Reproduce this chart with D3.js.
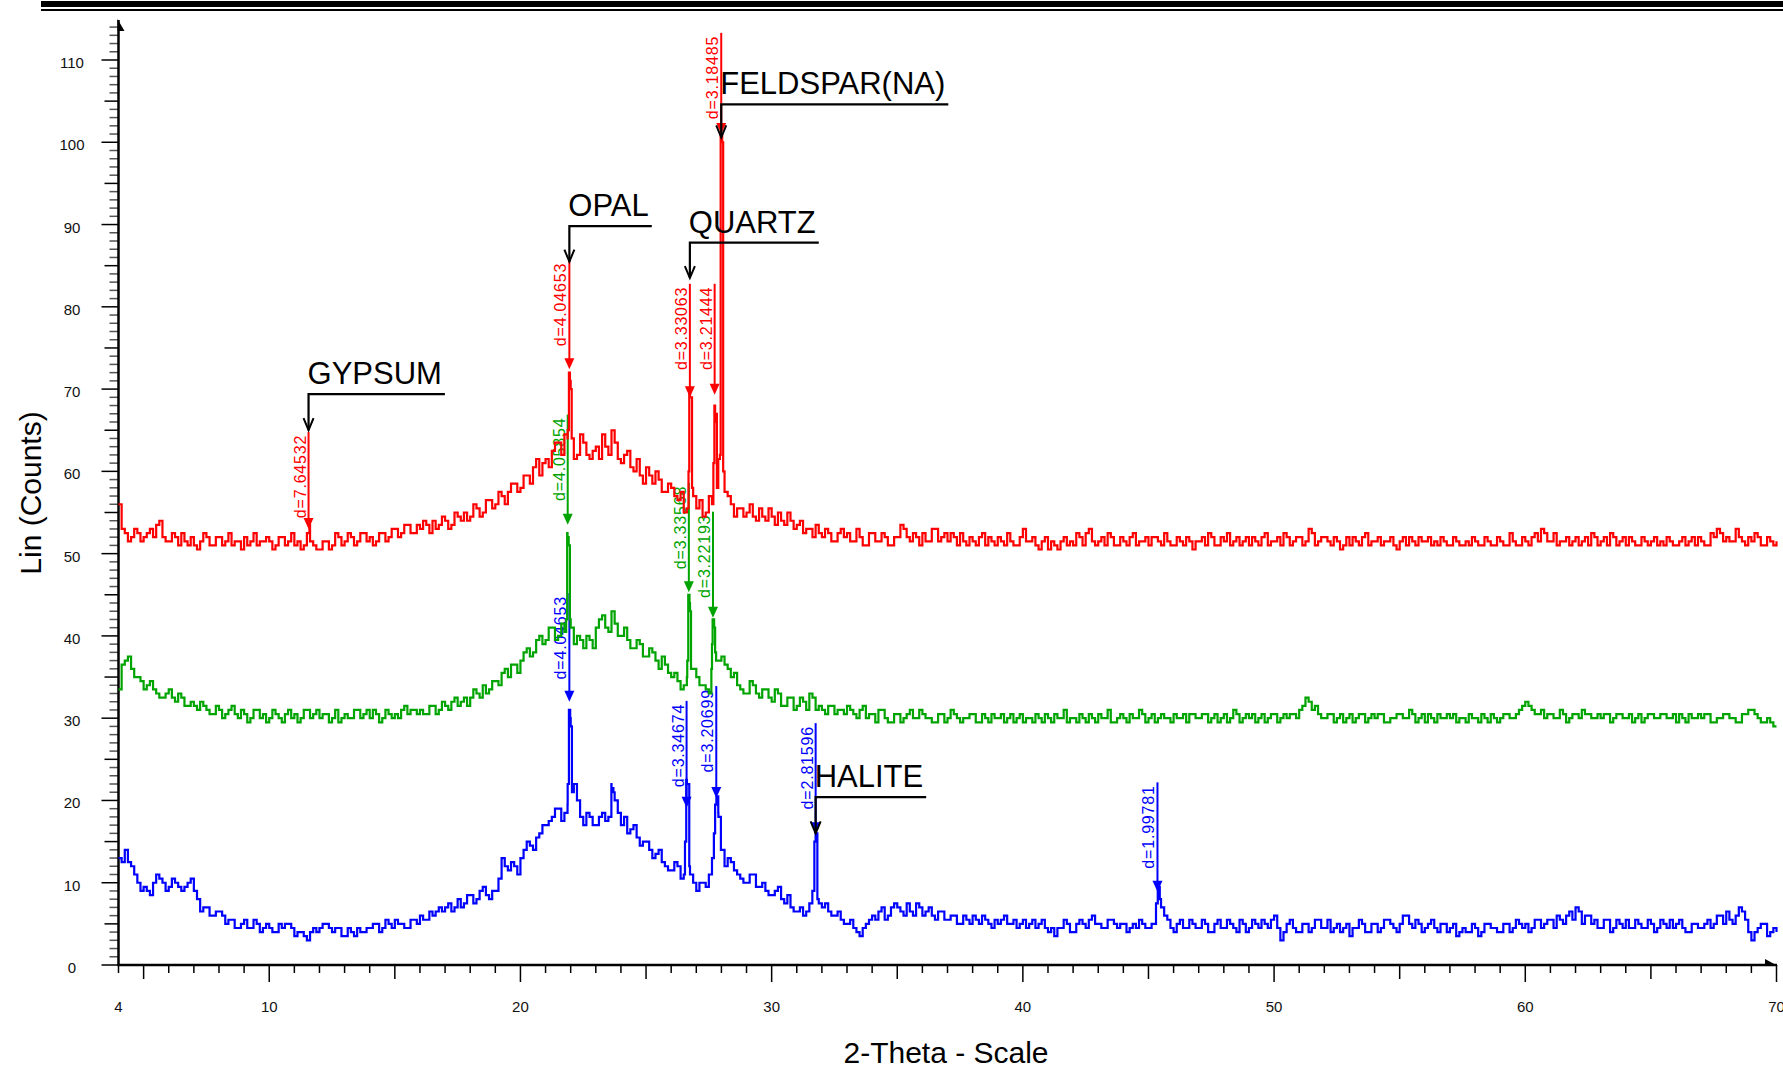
<!DOCTYPE html>
<meta charset="utf-8">
<style>
	body { margin:0; background:#fff; }
	svg { display:block; font-family:"Liberation Sans", Arial, Helvetica, sans-serif; }
</style>
<script src="https://d3js.org/d3.v7.min.js"></script>
<body>
<svg id="chart" width="1783" height="1069"></svg>
<script>
// scans start at 4 deg 2-theta, one reading every 0.25 deg, plus the readings halfway between
var thetaStart = 4, thetaStep = 0.25;

var redCounts = [
	56,52.5,52,52.5, 52,53,53.5,52, 51.5,52,52.5,51, 51,51.5,52,51, 52,51.5,51,51.5,
	52,51.5,51,51.5, 51.5,51,52,51.5, 51,50.5,52.5,51, 50.5,51.5,51,52, 51.5,52,51.5,52.5,
	52,51.5,52.5,52, 53,52.5,53.5,52.5, 53,53.5,54,53.5, 54,53.5,54.5,55, 54.5,55.5,55,56.5,
	56,57,57.5,58.5, 58,59.5,60.5,59.5, 61.5,62.5,63.5,64.5, 70,62,63.5,61.5, 63,64.5,62,63.5,
	61,62.5,60,59.5, 60.5,58.5,59,57.5, 58,56.5,55,69, 55.5,54.5,57,66, 101,57,54.5,55.5,
	55,54.5,55.5,54, 54.5,55,53.5,54, 53.5,52.5,53,53.5, 52,52.5,51.5,53, 52.5,51.5,52,51,
	52.5,51.5,52,51, 52,53,51.5,52, 52.5,51.5,53,52, 51.5,52,52.5,51, 51.5,52,51,51.5,
	52,51,51.5,51, 53,51.5,51,51.5, 50.5,51,51.5,51, 51,52,52.5,51.5, 51.5,51,52,51,
	51.5,52,51,51.5, 51,52,51,51.5, 51,51.5,52,50.5, 51.5,51,52,51, 51.5,51,52,51.5,
	51,51.5,52,51, 51.5,51,52,51.5, 52,51.5,52.5,51.5, 52,51,51.5,51, 51,51.5,52,51,
	51.5,51,51.5,51, 51.5,51,51.5,52, 51.5,51,51,51.5, 51,51.5,51,51, 51.5,51,51.5,51,
	51.5,51,51.5,51, 51.5,52,51.5,52.5, 51.5,51,51.5,51, 52,51.5,51,52, 51.5,51,52,51.5,
	51,51.5,51,51.5, 51.5,51,51,51.5, 51,52,51.5,51, 51.5,51,52,52.5, 52,51.5,52,51,
	51.5,52,51,51.5, 51.5
];
var redMid = [
	53,51.5,53,51.5, 52.5,52,54,51.5, 52.5,51,51.5,52, 50.5,52.5,51,52, 51,52.5,51.5,50.5,
	51,52.5,51.5,52, 50.5,52,51,52.5, 51.5,51,51.5,50.5, 51.5,50.5,52.5,51, 52.5,51,52.5,51.5,
	51,52.5,51.5,53, 52,53.5,52.5,53.5, 54,52.5,53,54.5, 53,55,54,54, 56,54.5,56.5,55.5,
	57.5,56,58.5,57.5, 59.5,58.5,61.5,61, 60.5,63.5,62,64, 61.5,64.5,62,62.5, 61.5,63,65,61.5,
	62,60.5,61.5,58.5, 59.5,60,57.5,58.5, 57,57.5,55.5,57, 56.5,55,56,61.5, 57.5,56,55.5,54.5,
	56,54,54.5,55.5, 53.5,54,55,53, 54,53,52,52.5, 53,51.5,52.5,52, 51.5,53,51,52.5,
	51.5,52.5,51,52, 53.5,52,52.5,51, 51.5,53,51.5,52.5, 52.5,51,51.5,52, 51,52.5,52,51,
	51.5,52.5,51,52, 51.5,52,50.5,52, 51.5,50.5,52,51.5, 52.5,51,53,51, 52,52.5,51,52,
	51,52.5,51.5,52, 52,51.5,52.5,51, 52,51,51.5,51.5, 52,52.5,51,52, 52.5,51.5,51,52,
	52,51,52.5,51.5, 52,52.5,51,52, 51,53,51,52, 51.5,52,50.5,52, 52,51,52.5,51.5,
	52,51.5,52,50.5, 52,52,51,51.5, 52,51.5,52,51, 52,51,51.5,52, 51,52,51,52,
	51,52.5,51,52, 51,52.5,53,51.5, 52.5,51.5,52,51.5, 51,52,52.5,51, 52,52.5,51,52,
	52,51,52,51, 52,51.5,52,51, 51.5,51,52,52, 51,52.5,53,51.5, 51.5,53,51.5,52,
	52.5,51,52,51
];
var greenCounts = [
	33.5,37,36,35, 33.5,34.5,33,32.5, 33.5,32,32.5,31.5, 31.5,32,31,30.5, 31,30.5,31.5,30,
	30.5,30,31,30.5, 30,30.5,29.5,31, 30.5,30,31,30.5, 30,30.5,30,29.5, 30.5,30,31,30.5,
	30,30.5,30,30.5, 30.5,31,30.5,31, 31,30.5,31.5,31, 31.5,32,31.5,32.5, 32.5,33,34,33.5,
	34.5,35.5,35,36.5, 37,38.5,38,40, 39.5,41,40,40.5, 41,40,38.5,39.5, 41,42.5,40.5,41.5,
	40,39.5,38.5,39, 37.5,38,36,36.5, 35,34.5,34,43, 35,34,33,38, 37.5,36,35.5,33.5,
	33,34,32.5,33.5, 32,33,31.5,32.5, 31.5,32,33,31, 31,31.5,30.5,31, 31.5,30.5,31,30,
	30.5,31,30,29.5, 30.5,30,31,30, 30.5,30,29.5,30.5, 30,30.5,29.5,30, 30.5,29.5,30,30.5,
	30,29.5,30.5,30, 29.5,30,30.5,29.5, 30,30.5,30,29.5, 30,30.5,29.5,30, 30.5,30,29.5,30,
	30,30.5,30,30.5, 30,29.5,30.5,30, 30.5,30,29.5,30.5, 30,30.5,30,29.5, 30.5,30,30.5,30,
	30,29.5,30.5,30, 30.5,30,30,30.5, 31,32.5,31,30.5, 30,30.5,30,29.5, 30.5,30,30.5,30,
	30,30.5,29.5,30, 30.5,30,30.5,30, 29.5,30,30.5,30, 30,29.5,30,30.5, 30,30.5,29.5,30,
	30,30.5,30,31, 32,31,30.5,30, 30.5,30,30.5,30, 30.5,31,30.5,30, 30,30.5,30,30.5,
	30,29.5,30.5,30, 30.5,30,30.5,30, 29.5,30,30.5,30, 30,30.5,29.5,30, 30.5,30,29.5,30.5,
	31,30,29.5,29.5, 29
];
var greenMid = [
	36.5,37.5,35,34.5, 34,33.5,32.5,33, 32.5,33,31.5,32, 31,31.5,30.5,31.5, 30,31,30.5,31,
	29.5,31,30,29.5, 31,30,30.5,30, 29.5,31,30,31, 30.5,29.5,31,30, 30,31,30,31,
	31,29.5,31,30, 30,31.5,31,30.5, 30.5,31.5,30.5,32, 31,32.5,32,31.5, 33.5,32.5,33,34.5,
	34,36,36.5,35.5, 38,37.5,39.5,39, 41,39.5,41.5,52, 39,39.5,40,38.5, 42,41,43,40,
	41,38.5,39.5,37.5, 38.5,37,37.5,35.5, 35.5,33.5,35,36, 34,33.5,39,37, 36.5,35,34,33,
	34.5,33,33.5,32.5, 33.5,31.5,32.5,31, 32.5,31,32.5,31.5, 30.5,31.5,31,30.5, 31,30,31.5,30.5,
	29.5,31,29.5,30.5, 29.5,30.5,30,31, 30,29.5,30.5,29.5, 31,30,30,30.5, 29.5,30.5,29.5,30,
	30.5,30,29.5,30.5, 30,29.5,30,30.5, 29.5,30,31,30, 29.5,30,30.5,29.5, 30,31,29.5,30.5,
	29.5,30,31,29.5, 30.5,30,30,29.5, 30,30.5,30.5,30, 30.5,29.5,30.5,30, 29.5,31,29.5,30.5,
	30.5,30,29.5,30.5, 29.5,30.5,30.5,30, 31.5,32,31.5,30, 30.5,29.5,30.5,30, 29.5,30.5,29.5,30.5,
	30.5,29.5,30,30.5, 30,31,29.5,30.5, 30.5,29.5,30,30.5, 30.5,30,29.5,30, 29.5,30,30.5,29.5,
	30.5,30,30.5,31.5, 31.5,30.5,31,30.5, 30,31,29.5,30.5, 30,30.5,30,30.5, 30.5,29.5,30.5,30,
	30.5,30,29.5,30.5, 30,30.5,30,30.5, 30.5,29.5,30,30.5, 30.5,29.5,30,30.5, 30,29.5,30.5,31,
	30.5,29.5,30,29
];
var blueCounts = [
	13,14,12,10, 9.5,8.5,11,10, 9.5,10,9,10, 9,6.5,7,6, 6.5,5,5.5,4.5,
	5.5,4.5,5,4.5, 4.5,4,4.5,5, 3.5,4,3,4.5, 4.5,5,4,4.5, 3.5,4,4.5,4,
	4.5,5,4.5,5, 5.5,5,4.5,5.5, 6,5.5,6,7, 7,6.5,8,7.5, 8.5,8,9.5,8,
	9,13,11.5,12, 13,15,14,16, 17,18,19,18.5, 29,20,17,18, 17,18.5,18,20,
	17,16,17,14.5, 15,13,14,12, 11.5,12,11,11, 9,10,11,19.5, 14,13,11.5,10.5,
	10,11,9.5,9, 8.5,9.5,7.5,7, 6.5,6,7.5,16, 7,6.5,6,5.5, 5,4.5,3.5,5,
	6,6.5,5.5,7, 7,6,6.5,7.5, 6,7,5.5,6.5, 5.5,6,5,5.5, 6,5,5.5,4.5,
	5,6,5,4.5, 5.5,5,4.5,5.5, 4,3.5,4.5,5, 4,5.5,4.5,6, 5,4.5,5.5,4.5,
	5,4.5,4.5,5, 4.5,5,7,5.5, 4,5.5,4.5,5, 4.5,5,4,5.5, 4.5,5,4,5,
	4.5,5,5.5,4.5, 6,3,5,4.5, 4,5,4.5,5.5, 4.5,4,5,4.5, 3.5,4.5,5,4,
	5,4.5,5.5,4.5, 5,6,4.5,5, 4.5,5.5,4,5, 4.5,3.5,4.5,4, 4.5,4,5,4.5,
	4,5,4.5,5, 5,4.5,5.5,5, 5.5,6,5,6.5, 7,5,6,5.5, 4.5,5.5,4.5,5,
	5.5,4.5,5,4.5, 5,4.5,5,5.5, 5,4.5,4,5, 4.5,5.5,5,6, 6.5,5,7,5.5,
	3,4.5,5,4, 4
];
var blueMid = [
	12.5,12.5,11,9, 9,10,10.5,9, 10.5,9.5,9.5,10.5, 8,7,6,6.5, 6,5.5,4.5,5,
	4.5,5.5,4,5, 4,5,5,4.5, 4,3.5,4,4, 5,4.5,4.5,3.5, 4.5,3.5,4,4.5,
	5,4,5.5,4.5, 5,4.5,5.5,5, 5.5,6.5,6.5,6.5, 7.5,7,7,8.5, 7.5,9,8.5,9,
	10.5,12,12.5,11, 14,14.5,15.5,17, 17.5,19,17.5,19.5, 22,18,18.5,17, 18,17.5,21.5,18.5,
	18,16.5,15.5,15, 14,13.5,12.5,11.5, 12.5,10.5,22,10, 10,9.5,13,18.5, 12,12.5,11,10,
	11,9.5,10,8.5, 9,8,8.5,6.5, 7,6.5,9,7.5, 7.5,6,6.5,5, 5.5,4,4.5,5.5,
	5.5,7,6,7.5, 6.5,7.5,6,7, 6.5,6,6.5,5.5, 6,5,6,5, 5.5,6,5,5.5,
	5.5,5,5.5,5, 4.5,5.5,5,4.5, 4.5,4.5,5.5,4, 5,5,5.5,5, 4.5,5.5,5,5,
	4,5,5.5,4.5, 5,9.5,6,4.5, 5,4.5,5.5,4.5, 5.5,4,5,4.5, 5.5,4.5,5.5,4,
	5.5,4.5,5,5.5, 4.5,4,5.5,4, 5,4,5.5,4.5, 5.5,4.5,4,5, 4.5,5.5,4,5,
	4,5.5,5,4, 6,5,5.5,4, 5,4.5,5,4, 5,4,4,5, 3.5,5,4.5,4,
	5,4,5.5,4.5, 4,5.5,4.5,5.5, 4.5,5.5,6,5.5, 6.5,6,5,4.5, 5.5,4,5.5,4.5,
	4.5,5.5,4.5,5.5, 4,5.5,4.5,4.5, 5.5,4,5,4.5, 5,4.5,6,5, 5.5,6,6.5,4,
	4,5,3.5,4.5
];

// extra readings across the sharp reflections [2-theta, counts]
var redPeaks = [[11.6,53.5],[21.88,65],[21.93,72],[21.97,71],[22.04,64],[26.69,60],[26.72,70],[26.78,69],[26.83,58],
	[27.68,61],[27.72,68],[27.78,67],[27.82,58],[27.94,62],[27.97,101],[28.03,100],[28.07,60]];
var greenPeaks = [[21.82,42],[21.86,52.5],[21.92,51],[21.97,42],[26.64,37],[26.68,45],[26.73,44],[26.79,36],
	[27.6,36],[27.65,42],[27.71,41],[27.79,37]];
var bluePeaks = [[21.88,22],[21.93,31],[21.98,30],[22.05,21],[23.62,22],[23.7,21],[26.55,15],[26.6,22.5],[26.66,22],[26.72,12],
	[27.7,16],[27.8,20.5],[27.88,18],[27.98,14],[31.62,9],[31.7,15],[31.76,16],[31.82,8],[45.3,7.5],[45.37,9.8],[45.45,8]];

// d-spacing markers: d value, label top and arrow tip (in counts)
var redD = [7.64532, 4.04653, 3.33063, 3.21444, 3.18485];
var redDTop = [64.8, 85.7, 82.8, 82.8, 113.3];
var redDTip = [53.0, 72.4, 69.0, 69.3, 101];
var greenD = [4.05854, 3.33568, 3.22193];
var greenDTop = [66.9, 58.6, 55.1];
var greenDTip = [53.5, 45.3, 42.2];
var blueD = [4.04653, 3.34674, 3.20699, 2.81596, 1.99781];
var blueDTop = [45.2, 32.1, 33.9, 29.4, 22.2];
var blueDTip = [32.0, 19.1, 20.3, 16.0, 8.9];

// phase identification callouts
var phaseNames = ["GYPSUM", "OPAL", "QUARTZ", "FELDSPAR(NA)", "HALITE"];
var phaseD = [7.64532, 4.04653, 3.33063, 3.18485, 2.81596];
var phaseLine = [69.4, 89.8, 87.8, 104.6, 20.4];
var phaseTip = [65.0, 85.5, 83.5, 100.6, 16.0];

var xTickLabels = [4, 10, 20, 30, 40, 50, 60, 70];
var yTickLabels = [0, 10, 20, 30, 40, 50, 60, 70, 80, 90, 100, 110];

var svg = d3.select("#chart");
var x = d3.scaleLinear().domain([4, 70]).range([118.5, 1776.5]);
var y = d3.scaleLinear().domain([0, 110]).range([965, 60]);

function twoTheta(d) { // Cu K-alpha
	return 2 * Math.asin(1.5406 / (2 * d)) * 180 / Math.PI;
}

// header rules
svg.append("rect").attr("x", 41).attr("y", 1).attr("width", 1742).attr("height", 6).attr("fill", "#000");
svg.append("rect").attr("x", 41).attr("y", 9).attr("width", 1742).attr("height", 2).attr("fill", "#000");

// y ticks
var yMinor = d3.range(0, 115, 1);
svg.append("g").selectAll("line").data(yMinor).enter().append("line")
	.attr("x1", function(v) { return x(4) - (v % 10 == 0 ? 17 : v % 5 == 0 ? 14 : 9); })
	.attr("x2", x(4))
	.attr("y1", function(v) { return y(v); })
	.attr("y2", function(v) { return y(v); })
	.attr("stroke", function(v) { return v % 5 == 0 ? "#000" : "#555"; })
	.attr("stroke-width", 1.5);
svg.append("g").selectAll("text").data(yTickLabels).enter().append("text")
	.attr("x", 72).attr("y", function(v) { return y(v) + 8; })
	.attr("text-anchor", "middle").attr("font-size", 15).attr("fill", "#111")
	.text(function(v) { return v; });

// x ticks
var xMinor = d3.range(4, 71, 1);
svg.append("g").selectAll("line").data(xMinor).enter().append("line")
	.attr("x1", function(v) { return x(v); })
	.attr("x2", function(v) { return x(v); })
	.attr("y1", y(0))
	.attr("y2", function(v) { return y(0) + (v % 10 == 0 ? 17 : v % 5 == 0 ? 14 : 8); })
	.attr("stroke", "#000").attr("stroke-width", 1.5);
svg.append("g").selectAll("text").data(xTickLabels).enter().append("text")
	.attr("x", function(v) { return x(v); }).attr("y", 1012)
	.attr("text-anchor", "middle").attr("font-size", 15).attr("fill", "#111")
	.text(function(v) { return v; });

// axes with half arrowheads
svg.append("line").attr("x1", x(4)).attr("x2", x(4)).attr("y1", y(0) + 1).attr("y2", 20)
	.attr("stroke", "#000").attr("stroke-width", 2.5);
svg.append("path").attr("d", "M" + (x(4) - 1) + ",19L" + (x(4) + 6) + ",31L" + (x(4) - 1) + ",31Z").attr("fill", "#000");
svg.append("line").attr("x1", x(4) - 1).attr("x2", 1777).attr("y1", y(0)).attr("y2", y(0))
	.attr("stroke", "#000").attr("stroke-width", 2.5);
svg.append("path").attr("d", "M1778," + (y(0) + 1) + "L1765," + (y(0) - 6) + "L1765," + (y(0) + 1) + "Z").attr("fill", "#000");

// axis titles
svg.append("text").attr("transform", "translate(41,493) rotate(-90)")
	.attr("text-anchor", "middle").attr("font-size", 30).text("Lin (Counts)");
svg.append("text").attr("x", 946).attr("y", 1063)
	.attr("text-anchor", "middle").attr("font-size", 30).text("2-Theta - Scale");

// scans
function buildScan(counts, mids, peaks) {
	var pts = [];
	counts.forEach(function(c, i) {
		pts.push([thetaStart + i * thetaStep, c]);
		if (i < mids.length) pts.push([thetaStart + (i + 0.5) * thetaStep, mids[i]]);
	});
	return pts.concat(peaks).sort(function(a, b) { return a[0] - b[0]; });
}
var line = d3.line()
	.x(function(p) { return x(p[0]); })
	.y(function(p) { return y(p[1]); })
	.curve(d3.curveStepAfter);

function drawScan(counts, mids, peaks, dList, tops, tips, color) {
	var g = svg.append("g");
	g.append("path").datum(buildScan(counts, mids, peaks))
		.attr("d", line).attr("fill", "none")
		.attr("stroke", color).attr("stroke-width", 2.2).attr("stroke-linejoin", "miter");
	dList.forEach(function(d, i) {
		var px = x(twoTheta(d));
		g.append("line").attr("x1", px).attr("x2", px)
			.attr("y1", y(tops[i])).attr("y2", y(tips[i]) - 10)
			.attr("stroke", color).attr("stroke-width", 2);
		g.append("path")
			.attr("d", "M" + (px - 5) + "," + (y(tips[i]) - 11) + "L" + (px + 5) + "," + (y(tips[i]) - 11) + "L" + px + "," + y(tips[i]) + "Z")
			.attr("fill", color);
		g.append("text")
			.attr("transform", "translate(" + (px - 3) + "," + (y(tops[i]) + 3) + ") rotate(-90)")
			.attr("text-anchor", "end").attr("font-size", 16).attr("letter-spacing", 0.8)
			.attr("fill", color).text("d=" + d);
	});
}
drawScan(blueCounts, blueMid, bluePeaks, blueD, blueDTop, blueDTip, "#0000ff");
drawScan(greenCounts, greenMid, greenPeaks, greenD, greenDTop, greenDTip, "#00a400");
drawScan(redCounts, redMid, redPeaks, redD, redDTop, redDTip, "#ff0000");

// phase callouts
phaseNames.forEach(function(name, i) {
	var px = x(twoTheta(phaseD[i]));
	var ly = y(phaseLine[i]), ty = y(phaseTip[i]);
	var t = svg.append("text").attr("x", px - 1).attr("y", ly - 10)
		.attr("font-size", 31).attr("fill", "#000").text(name);
	var w = t.node().getComputedTextLength();
	svg.append("path").attr("d", "M" + (px + w + 2) + "," + ly + "H" + px + "V" + ty)
		.attr("fill", "none").attr("stroke", "#000").attr("stroke-width", 2.2);
	svg.append("path").attr("d", "M" + (px - 5) + "," + (ty - 12) + "L" + px + "," + ty + "L" + (px + 5) + "," + (ty - 12))
		.attr("fill", "none").attr("stroke", "#000").attr("stroke-width", 2);
});
</script>
</body>
